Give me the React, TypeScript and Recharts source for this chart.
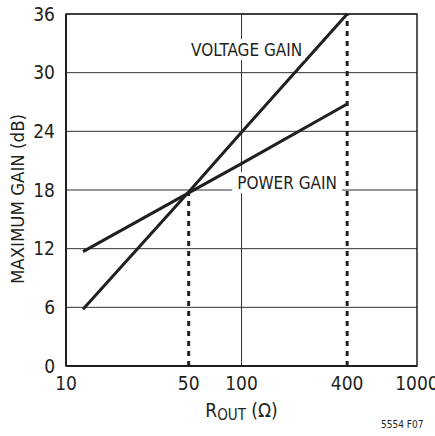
import React from 'react';
import {
  LineChart,
  Line,
  XAxis,
  YAxis,
  CartesianGrid,
  ReferenceLine,
  ReferenceArea,
  ReferenceDot,
} from 'recharts';

// R_OUT values (ohms) where the gain curves were read
const rOut = [12.5, 50, 100, 400];
// Maximum gain (dB)
const voltageGain = [5.8, 17.8, 23.9, 36];
const powerGain = [11.7, 17.7, 20.7, 26.8];

const xTicks = [10, 50, 100, 400, 1000];
const yTicks = [0, 6, 12, 18, 24, 30, 36];

// dotted marker lines
const markerX = [50, 400];
const markerTop = [17.8, 36];

// annotation anchors (data coordinates)
const voltageLabel = { x: 107, y: 32.3, text: 'VOLTAGE GAIN', w: 116 };
const powerLabel = { x: 182, y: 18.7, text: 'POWER GAIN', w: 110 };

const FONT = '"DejaVu Sans Condensed", "Liberation Sans Narrow", sans-serif';
const INK = '#231f20';

const data = rOut.map((r, i) => ({ r, voltage: voltageGain[i], power: powerGain[i] }));

const makeAnno = (text: string, w: number) => (props: any) => {
  const vb = props.viewBox || {};
  const cx = vb.x + (vb.width || 0) / 2;
  const cy = vb.y + (vb.height || 0) / 2;
  return (
    <g>
      <rect x={cx - w / 2} y={cy - 11} width={w} height={21} fill="#ffffff" />
      <text
        x={cx}
        y={cy}
        textAnchor="middle"
        dominantBaseline="central"
        fontFamily={FONT}
        fontSize={17}
        fill={INK}
      >
        {text}
      </text>
    </g>
  );
};

const YLabel = (props: any) => {
  const vb = props.viewBox || {};
  const cx = vb.x + 1;
  const cy = vb.y + vb.height / 2 + 9;
  return (
    <text
      x={cx}
      y={cy}
      transform={`rotate(-90 ${cx} ${cy})`}
      textAnchor="middle"
      dominantBaseline="central"
      fontFamily={FONT}
      fontSize={18.5}
      fill={INK}
    >
      MAXIMUM GAIN (dB)
    </text>
  );
};

const XLabel = (props: any) => {
  const vb = props.viewBox || {};
  const cx = vb.x + vb.width / 2;
  const y = vb.y + 51;
  return (
    <text x={cx} y={y} textAnchor="middle" fontFamily={FONT} fontSize={19} fill={INK}>
      R
      <tspan fontSize={15} dy={3}>OUT</tspan>
      <tspan dy={-3}> (Ω)</tspan>
    </text>
  );
};

export default function App() {
  return (
    <div style={{ position: 'absolute', left: 0, top: 0, width: 435, height: 436, background: '#fff' }}>
      <LineChart
        width={435}
        height={436}
        data={data}
        margin={{ top: 14, right: 18, bottom: 40, left: 16 }}
      >
        <CartesianGrid vertical={false} stroke="#333" strokeWidth={1} />
        <XAxis
          dataKey="r"
          type="number"
          scale="log"
          domain={[10, 1000]}
          ticks={xTicks}
          allowDataOverflow
          height={30}
          tickLine={false}
          tickMargin={5}
          axisLine={{ stroke: INK, strokeWidth: 2 }}
          tick={{ fontFamily: FONT, fontSize: 19, fill: INK }}
          interval={0}
          label={{ content: XLabel }}
        />
        <YAxis
          type="number"
          domain={[0, 36]}
          ticks={yTicks}
          width={50}
          tickLine={false}
          tickMargin={5}
          axisLine={{ stroke: INK, strokeWidth: 2 }}
          tick={{ fontFamily: FONT, fontSize: 19, fill: INK }}
          interval={0}
          label={{ content: YLabel }}
        />
        <ReferenceLine x={100} stroke="#333" strokeWidth={1} />
        <ReferenceArea x1={10} x2={1000} y1={0} y2={36} fill="none" stroke={INK} strokeWidth={1.5} />
        {markerX.map((mx, i) => (
          <ReferenceLine
            key={mx}
            segment={[{ x: mx, y: 0 }, { x: mx, y: markerTop[i] }]}
            stroke={INK}
            strokeWidth={3}
            strokeDasharray="5 5"
          />
        ))}
        <ReferenceDot
          x={powerLabel.x}
          y={powerLabel.y}
          r={0}
          stroke="none"
          fill="none"
          label={{ content: makeAnno(powerLabel.text, powerLabel.w) }}
        />
        <ReferenceDot
          x={voltageLabel.x}
          y={voltageLabel.y}
          r={0}
          stroke="none"
          fill="none"
          label={{ content: makeAnno(voltageLabel.text, voltageLabel.w) }}
        />
        <Line
          dataKey="voltage"
          stroke={INK}
          strokeWidth={3}
          dot={false}
          isAnimationActive={false}
        />
        <Line
          dataKey="power"
          stroke={INK}
          strokeWidth={3}
          dot={false}
          isAnimationActive={false}
        />
      </LineChart>
      <div
        style={{
          position: 'absolute',
          left: 381,
          top: 419,
          fontFamily: FONT,
          fontSize: 10,
          color: INK,
          whiteSpace: 'nowrap',
        }}
      >
        5554 F07
      </div>
    </div>
  );
}
